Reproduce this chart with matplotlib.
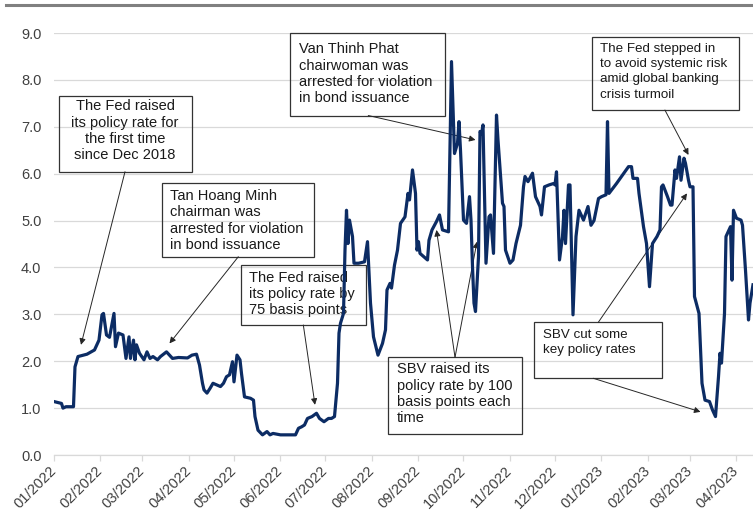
import datetime as dt

import matplotlib

matplotlib.use("Agg")
import matplotlib.dates as mdates
import matplotlib.pyplot as plt
from matplotlib.lines import Line2D
from matplotlib.patches import Rectangle

plt.rcParams["font.family"] = ["Liberation Sans", "DejaVu Sans"]

# Overnight interbank rate (%), days counted from 1 Jan 2022
START = dt.date(2022, 1, 1)
DAY_OFFSET = [
    0, 5, 6, 8, 13, 14, 16, 22, 27, 30, 32, 33, 35, 37, 40, 41, 43, 46, 48, 50,
    51, 53, 54, 55, 57, 60, 62, 64, 66, 69, 71, 75, 79, 83, 89, 92, 95, 97, 99, 100,
    102, 104, 106, 111, 113, 115, 117, 119, 120, 121, 122, 124, 125, 127, 131, 133, 134, 136, 139, 142,
    144, 146, 151, 155, 161, 163, 165, 167, 169, 172, 175, 177, 180, 183, 185, 187, 189, 190, 191, 193,
    194, 195, 196, 197, 199, 200, 203, 207, 209, 211, 213, 216, 219, 221, 222, 224, 225, 227, 229, 231,
    234, 236, 237, 239, 241, 242, 243, 244, 249, 250, 252, 255, 257, 259, 263, 265, 267, 269, 270, 271,
    273, 275, 277, 278, 279, 280, 281, 282, 283, 284, 285, 286, 288, 290, 291, 293, 295, 296, 299, 300,
    301, 304, 306, 308, 311, 313, 314, 316, 319, 321, 324, 325, 327, 330, 333, 334, 335, 337, 339, 340,
    341, 343, 344, 346, 348, 350, 353, 356, 358, 360, 363, 365, 368, 369, 370, 375, 383, 385, 386, 389,
    390, 393, 395, 397, 399, 402, 404, 405, 406, 409, 411, 412, 414, 415, 417, 418, 420, 421, 423, 424,
    426, 427, 430, 432, 434, 437, 439, 441, 443, 444, 445, 447, 448, 450, 451, 452, 453, 455, 458, 459,
    461, 463, 464, 466,
]
RATE = [
    1.14, 1.10, 1.00, 1.03, 1.03, 1.88, 2.10, 2.15, 2.24, 2.45, 2.99, 3.02, 2.56, 2.51, 3.02, 2.31, 2.60, 2.56, 2.06, 2.52,
    2.06, 2.45, 2.03, 2.35, 2.17, 2.03, 2.20, 2.06, 2.10, 2.03, 2.10, 2.20, 2.06, 2.08, 2.07, 2.13, 2.15, 1.92, 1.53, 1.39,
    1.32, 1.42, 1.53, 1.46, 1.53, 1.67, 1.71, 1.99, 1.56, 1.85, 2.13, 2.03, 1.74, 1.24, 1.21, 1.17, 0.82, 0.53, 0.43, 0.50,
    0.43, 0.46, 0.43, 0.43, 0.43, 0.57, 0.60, 0.64, 0.78, 0.82, 0.89, 0.78, 0.71, 0.78, 0.78, 0.82, 1.53, 2.60, 2.81, 3.02,
    4.37, 5.22, 4.51, 5.01, 4.66, 4.09, 4.09, 4.12, 4.55, 3.24, 2.52, 2.13, 2.38, 2.67, 3.52, 3.66, 3.56, 4.05, 4.37, 4.94,
    5.08, 5.58, 5.44, 6.08, 5.58, 4.37, 4.55, 4.30, 4.16, 4.58, 4.80, 4.98, 5.12, 4.80, 4.76, 8.39, 6.43, 6.65, 7.11, 6.50,
    5.01, 4.94, 5.51, 5.01, 4.02, 3.24, 3.06, 3.66, 4.23, 6.90, 6.85, 7.04, 4.09, 5.08, 5.12, 4.30, 7.25, 6.72, 5.37, 5.30,
    4.37, 4.09, 4.16, 4.51, 4.90, 5.72, 5.94, 5.83, 6.01, 5.51, 5.30, 5.12, 5.72, 5.76, 5.79, 5.76, 6.04, 4.16, 4.66, 5.22,
    4.51, 5.76, 5.76, 2.99, 4.66, 5.22, 5.01, 5.30, 4.90, 5.00, 5.47, 5.51, 5.55, 7.11, 5.58, 5.79, 6.15, 6.15, 5.90, 5.90,
    5.58, 4.87, 4.51, 3.59, 4.51, 4.66, 4.80, 5.72, 5.76, 5.51, 5.33, 5.33, 6.08, 5.90, 6.36, 5.86, 6.33, 6.22, 5.86, 5.72,
    5.72, 3.38, 3.02, 1.53, 1.17, 1.14, 0.96, 0.82, 1.67, 2.17, 1.96, 3.02, 4.66, 4.80, 4.87, 3.73, 5.22, 5.05, 5.01, 4.90,
    3.94, 2.88, 3.24, 3.63,
]

Y_TICKS = [0, 1, 2, 3, 4, 5, 6, 7, 8, 9]

# Callouts: text, box (axes fraction x0, y0, x1, y1), text anchor, alignment,
# font size, line spacing, arrow tails (axes fraction) and arrow heads (date, rate)
CALLOUTS = [
    dict(text="The Fed raised\nits policy rate for\nthe first time\nsince Dec 2018",
         box=(0.0076, 0.6714, 0.1970, 0.8514), anchor=(0.1016, 0.8425), ha="center",
         size=10.5, spacing=1.2,
         tails=[(0.1016, 0.6714)], heads=[("2022-01-19", 2.35)]),
    dict(text="Tan Hoang Minh\nchairman was\narrested for violation\nin bond issuance",
         box=(0.1549, 0.4699, 0.3724, 0.6457), anchor=(0.1660, 0.6300), ha="left",
         size=10.5, spacing=1.2,
         tails=[(0.2637, 0.4699)], heads=[("2022-03-19", 2.38)]),
    dict(text="The Fed raised\nits policy rate by\n75 basis points",
         box=(0.2671, 0.3081, 0.4459, 0.4502), anchor=(0.2794, 0.4367), ha="left",
         size=10.5, spacing=1.2,
         tails=[(0.3567, 0.3081)], heads=[("2022-06-24", 1.07)]),
    dict(text="Van Thinh Phat\nchairwoman was\narrested for violation\nin bond issuance",
         box=(0.3376, 0.8033, 0.5594, 0.9993), anchor=(0.3505, 0.9777), ha="left",
         size=10.5, spacing=1.2,
         tails=[(0.4496, 0.8045)], heads=[("2022-10-09", 6.72)]),
    dict(text="SBV raised its\npolicy rate by 100\nbasis points each\ntime",
         box=(0.4774, 0.0498, 0.6691, 0.2315), anchor=(0.4903, 0.2194), ha="left",
         size=10.5, spacing=1.2,
         tails=[(0.5737, 0.2315), (0.5737, 0.2315)],
         heads=[("2022-09-13", 4.80), ("2022-10-10", 4.55)]),
    dict(text="The Fed stepped in\nto avoid systemic risk\namid global banking\ncrisis turmoil",
         box=(0.7692, 0.8175, 0.9800, 0.9912), anchor=(0.7811, 0.9765), ha="left",
         size=9.6, spacing=1.36,
         tails=[(0.8740, 0.8175)], heads=[("2023-02-28", 6.40)]),
    dict(text="SBV cut some\nkey policy rates",
         box=(0.6871, 0.1818, 0.8693, 0.3145), anchor=(0.6991, 0.2985), ha="left",
         size=9.6, spacing=1.36,
         tails=[(0.7787, 0.3145), (0.7715, 0.1818)],
         heads=[("2023-02-27", 5.58), ("2023-03-08", 0.92)]),
]

dates = [START + dt.timedelta(days=d) for d in DAY_OFFSET]

fig = plt.figure(figsize=(7.53, 5.16), dpi=100)
ax = fig.add_axes([0.0717, 0.1182, 0.9283, 0.8178])

ax.plot(dates, RATE, color="#0c2c64", lw=2.3, solid_joinstyle="round", zorder=3)

ax.set_xlim(START, dates[-1])
ax.set_ylim(0, 9)
ax.set_yticks(Y_TICKS)
ax.yaxis.set_major_formatter(matplotlib.ticker.FormatStrFormatter("%.1f"))
ax.xaxis.set_major_locator(mdates.MonthLocator())
ax.xaxis.set_major_formatter(mdates.DateFormatter("%m/%Y"))

ax.grid(axis="y", color="#d9d9d9", lw=0.9, zorder=0)
ax.set_axisbelow(True)
for side in ("top", "right", "left"):
    ax.spines[side].set_visible(False)
ax.spines["bottom"].set_color("#d9d9d9")
ax.spines["bottom"].set_linewidth(0.9)

ax.tick_params(axis="y", length=0, pad=9, labelsize=10.5, labelcolor="#404040")
ax.tick_params(axis="x", length=4, width=0.9, color="#d9d9d9", pad=6,
               labelsize=10.5, labelcolor="#404040")
for lbl in ax.get_xticklabels():
    lbl.set_rotation(45)
    lbl.set_ha("right")
    lbl.set_va("center")
    lbl.set_rotation_mode("anchor")

for c in CALLOUTS:
    x0, y0, x1, y1 = c["box"]
    ax.add_patch(Rectangle((x0, y0), x1 - x0, y1 - y0, transform=ax.transAxes,
                           facecolor="none", edgecolor="#333333", lw=0.9,
                           clip_on=False, zorder=1))
    ax.text(c["anchor"][0], c["anchor"][1], c["text"], transform=ax.transAxes,
            ha="center" if c["ha"] == "center" else "left", va="top",
            multialignment=c["ha"], fontsize=c["size"], color="#1a1a1a",
            linespacing=c["spacing"], zorder=2)
    for tail, (day, val) in zip(c["tails"], c["heads"]):
        ax.annotate("", xy=(mdates.datestr2num(day), val), xycoords="data",
                    xytext=tail, textcoords="axes fraction", annotation_clip=False,
                    arrowprops=dict(arrowstyle="-|>", color="#262626", lw=0.7,
                                    mutation_scale=9, shrinkA=0, shrinkB=0),
                    zorder=2)

# thin rule across the top of the figure
fig.add_artist(Line2D([0.008, 1.0], [0.9903, 0.9903], color="#808080", lw=2.2))

fig.savefig("out.png", dpi=100)
